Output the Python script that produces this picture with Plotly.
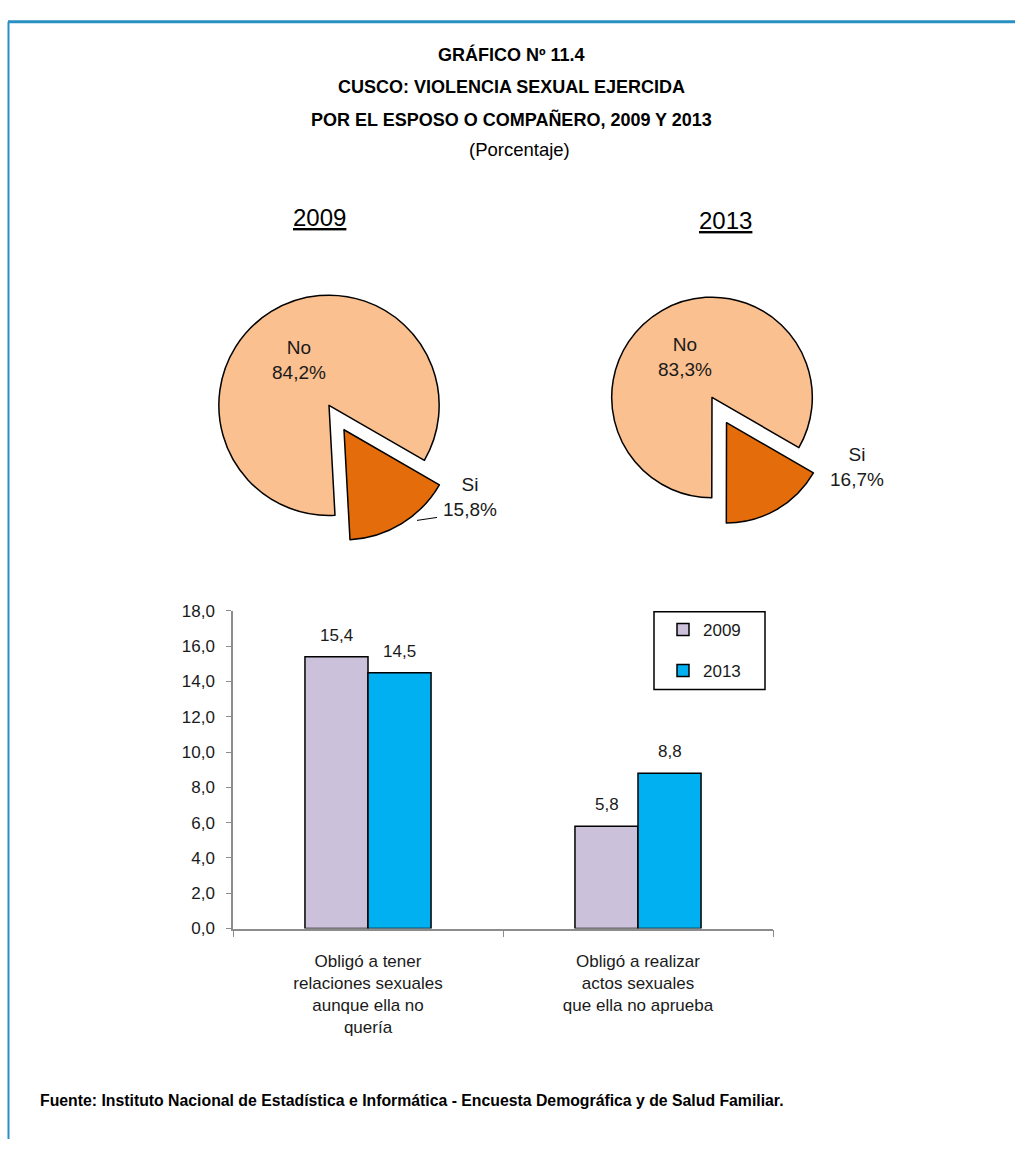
import plotly.graph_objects as go

W, H = 1015, 1149
FONT = "Liberation Sans, Arial, sans-serif"
TXT = "#1a1a1a"

# ---------------- data ----------------
pie_labels = ["Si", "No"]
pie_2009 = [15.8, 84.2]
pie_2013 = [16.7, 83.3]
pie_colors = ["#E46C0A", "#FAC090"]

bar_categories = [
    "Obligó a tener<br>relaciones sexuales<br>aunque ella no<br>quería",
    "Obligó a realizar<br>actos sexuales<br>que ella no aprueba",
]
bar_2009 = [15.4, 5.8]
bar_2013 = [14.5, 8.8]
series_names = ["2009", "2013"]
bar_colors = ["#CCC1DA", "#00B0F0"]
y_tick_vals = [0, 2, 4, 6, 8, 10, 12, 14, 16, 18]

title_lines = ["GRÁFICO Nº 11.4", "CUSCO: VIOLENCIA SEXUAL EJERCIDA",
               "POR EL ESPOSO O COMPAÑERO, 2009 Y 2013"]
subtitle = "(Porcentaje)"
source = ("Fuente: Instituto Nacional de Estadística e Informática - "
          "Encuesta Demográfica y de Salud Familiar.")


def px(x):
    return x / W


def py(y):
    return 1 - y / H


def pie_domain(cx, cy, r, pull):
    half = r * (1 + pull)
    return dict(x=[px(cx - half), px(cx + half)], y=[py(cy + half), py(cy - half)])


def fmt(v):
    return f"{v:.1f}".replace(".", ",")


def note(text, x, y, size, xanchor="center", color=TXT):
    return dict(text=text, x=px(x), y=py(y), xref="paper", yref="paper",
                xanchor=xanchor, yanchor="middle", showarrow=False,
                font=dict(size=size, family=FONT, color=color))


fig = go.Figure()

pies = [
    (pie_2009, dict(cx=329, cy=403, r=112, pull=0.26)),
    (pie_2013, dict(cx=712, cy=395, r=102, pull=0.29)),
]
for vals, g in pies:
    fig.add_trace(go.Pie(
        labels=pie_labels, values=vals, sort=False, direction="clockwise",
        rotation=120, pull=[g["pull"], 0],
        marker=dict(colors=pie_colors, line=dict(color="#000000", width=1.5)),
        textinfo="none", hoverinfo="label+percent", showlegend=False,
        domain=pie_domain(g["cx"], g["cy"], g["r"], g["pull"]),
    ))

# bars
for name, vals, col in zip(series_names, [bar_2009, bar_2013], bar_colors):
    fig.add_trace(go.Bar(
        x=bar_categories, y=vals, name=name, legendgroup=name,
        marker=dict(color=col, line=dict(color="#000000", width=1.5)),
        xaxis="x", yaxis="y",
    ))

annotations = []
# titles
for txt, y in zip(title_lines, [46, 79, 112]):
    annotations.append(note(f"<b>{txt}</b>", 512, y, 18, color="#000"))
annotations.append(note(subtitle, 519, 143, 18.5, color="#000"))
# year headings
for yr, x, y in [("2009", 319, 212), ("2013", 725, 215)]:
    annotations.append(note(f"<u>{yr}</u>", x, y, 24, color="#000"))
# pie labels
pie_label_pos = [((299, 357), (470, 496)), ((685, 354), (857, 466))]
for vals, (no_pos, si_pos) in zip([pie_2009, pie_2013], pie_label_pos):
    for lab, v, pos in [(pie_labels[1], vals[1], no_pos), (pie_labels[0], vals[0], si_pos)]:
        annotations.append(note(f"{lab}<br>{fmt(v)}%", pos[0], pos[1], 19))
# bar value labels
for vals, shift in [(bar_2009, -31.5), (bar_2013, 31.5)]:
    for cat, v in zip(bar_categories, vals):
        annotations.append(dict(text=fmt(v), x=cat, y=v, xref="x", yref="y", xshift=shift,
                                yshift=10, xanchor="center", yanchor="bottom", showarrow=False,
                                font=dict(size=17, family=FONT, color=TXT)))
# source
annotations.append(note(f"<b>{source}</b>", 38, 1110, 15.8, xanchor="left", color="#000"))

BLUE = "#2A8FC1"
shapes = [
    dict(type="line", xref="paper", yref="paper", x0=px(8), x1=1, y0=py(13), y1=py(13),
         line=dict(color=BLUE, width=3)),
    dict(type="line", xref="paper", yref="paper", x0=px(8.5), x1=px(8.5), y0=0, y1=py(13),
         line=dict(color=BLUE, width=2)),
    # leader line for the 2009 "Si" label
    dict(type="line", xref="paper", yref="paper", x0=px(417), x1=px(437), y0=py(520), y1=py(517),
         line=dict(color="#000", width=1)),
    # legend frame
    dict(type="rect", xref="paper", yref="paper", x0=px(654), x1=px(765), y0=py(692), y1=py(613),
         line=dict(color="#000", width=1.5), fillcolor="rgba(0,0,0,0)"),
]

fig.update_layout(
    width=W, height=H, autosize=False,
    margin=dict(l=0, r=0, t=0, b=0),
    paper_bgcolor="white", plot_bgcolor="white",
    separators=",.",
    font=dict(family=FONT, color=TXT),
    barmode="group", bargap=0.533, bargroupgap=0,
    xaxis=dict(domain=[px(233), px(773)], showline=True, linecolor="#8c8c8c", linewidth=1.5,
               ticks="outside", tickson="boundaries", ticklen=7, tickcolor="#8c8c8c",
               showgrid=False, ticklabelstandoff=16,
               tickfont=dict(size=17, family=FONT, color=TXT), anchor="y"),
    yaxis=dict(domain=[py(935), py(612)], range=[0, 18], tickvals=y_tick_vals,
               tickformat=".1f", showline=True, linecolor="#8c8c8c", linewidth=1.5,
               ticks="outside", ticklen=5, tickcolor="#8c8c8c", showgrid=False, zeroline=False,
               ticklabelstandoff=8,
               tickfont=dict(size=17, family=FONT, color=TXT), anchor="x"),
    legend=dict(x=px(663), y=py(613), xanchor="left", yanchor="top", borderwidth=0,
                bgcolor="rgba(0,0,0,0)", tracegroupgap=16,
                font=dict(size=17, family=FONT, color=TXT)),
    annotations=annotations,
    shapes=shapes,
)

fig.write_html("out.html", config={"displayModeBar": False},
               post_script="document.body.style.margin='0';")
